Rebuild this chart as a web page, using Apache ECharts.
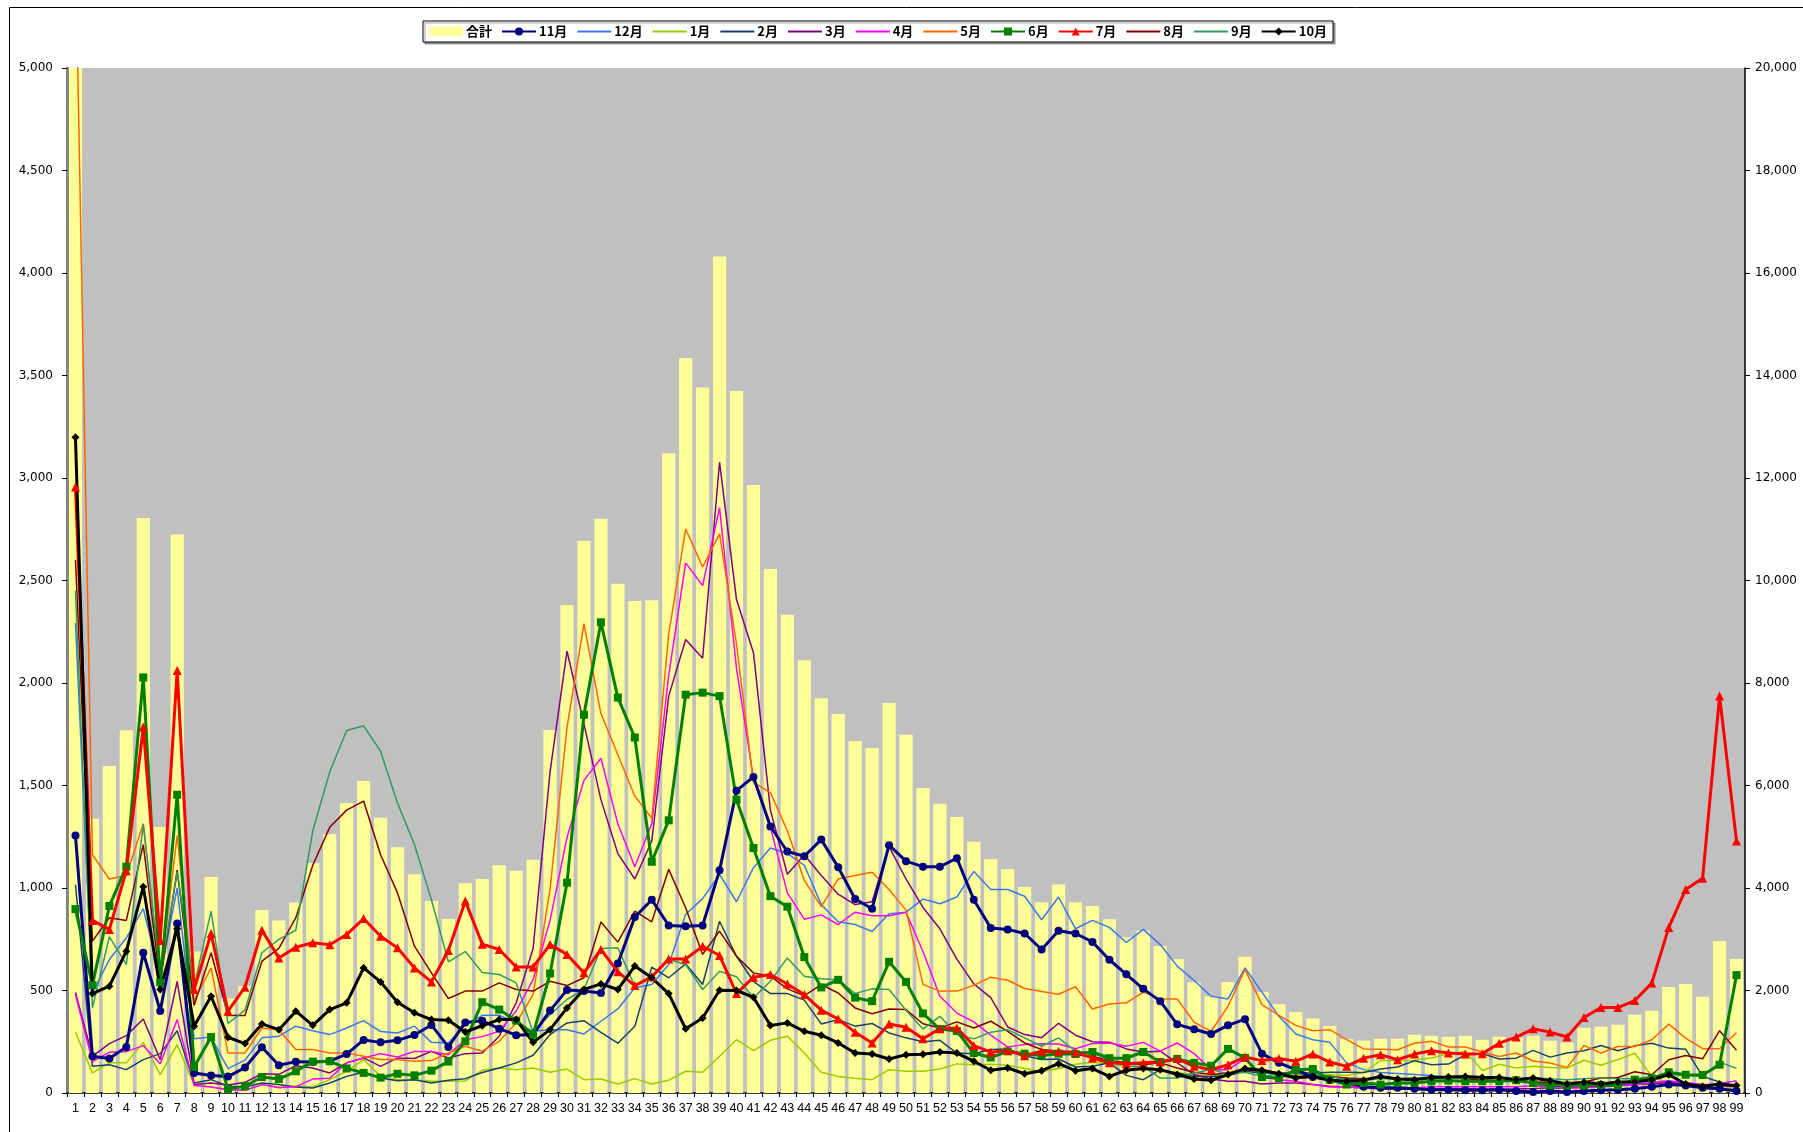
<!DOCTYPE html>
<html>
<head>
<meta charset="utf-8">
<title>月別推移</title>
<script src="https://cdn.jsdelivr.net/npm/echarts@6/dist/echarts.min.js"></script>
<style>
  html, body { margin: 0; padding: 0; background: #fff; }
  #chart { width: 1803px; height: 1132px; }
</style>
</head>
<body>
<div id="chart"></div>
<script>
// 横軸 1..99
var categories = [];
for (var i = 1; i <= 99; i++) categories.push(String(i));

// 合計 (右軸)
var total = [
  23500, 5350, 6380, 7080, 11220, 5190, 10900, 2760, 4215, 1845,
  2088, 3570, 3367, 3717, 4485, 5050, 5657, 6088, 5373, 4795,
  4268, 3744, 3393, 4094, 4175, 4444, 4337, 4552, 7084, 9521,
  10774, 11205, 9939, 9602, 9616, 12485, 14343, 13765, 16323, 13697,
  11865, 10223, 9333, 8444, 7704, 7393, 6868, 6734, 7609, 6991,
  5953, 5643, 5387, 4903, 4560, 4370, 4020, 3720, 4070, 3720,
  3650, 3390, 3040, 3165, 2870, 2610, 2160, 1890, 2165, 2660,
  1970, 1730, 1580, 1455, 1305, 1050, 1020, 1058, 1058, 1136,
  1116, 1097, 1116, 1038, 1097, 1077, 1116, 1019, 986, 1272,
  1291, 1330, 1525, 1603, 2070, 2129, 1876, 2966, 2615
];

var nov = [
  1256, 179, 168, 225, 684, 400, 827, 98, 85, 80,
  124, 223, 135, 153, 151, 155, 190, 259, 247, 257,
  283, 332, 225, 344, 352, 314, 282, 285, 402, 503,
  498, 488, 632, 858, 943, 817, 814, 817, 1086, 1475,
  1542, 1300, 1178, 1155, 1236, 1101, 946, 899, 1209, 1131,
  1104, 1104, 1145, 943, 805, 798, 778, 700, 791, 778,
  737, 650, 579, 508, 448, 335, 311, 288, 330, 360,
  192, 147, 114, 78, 65, 49, 31, 26, 26, 21,
  16, 16, 13, 13, 16, 10, 5, 10, 5, 10,
  13, 16, 21, 31, 41, 36, 26, 21, 10
];

var dec = [
  2293, 490, 651, 757, 899, 570, 1001, 265, 273, 119,
  160, 269, 277, 326, 304, 285, 317, 353, 300, 293,
  326, 247, 244, 330, 379, 379, 342, 301, 309, 309,
  288, 350, 410, 513, 529, 627, 871, 948, 1066, 933,
  1099, 1195, 1168, 1111, 919, 835, 822, 788, 875, 882,
  946, 923, 956, 1081, 993, 993, 960, 845, 956, 801,
  842, 808, 734, 798, 724, 619, 549, 472, 459, 610,
  492, 374, 288, 260, 247, 147, 114, 100, 95, 90,
  85, 75, 70, 65, 60, 55, 50, 50, 45, 45,
  40, 40, 45, 50, 55, 50, 40, 35, 30
];

var jan = [
  296, 98, 147, 147, 247, 90, 236, 41, 29, 16,
  13, 41, 29, 33, 31, 65, 106, 163, 81, 65,
  65, 57, 57, 59, 112, 122, 114, 122, 101, 117,
  65, 68, 44, 70, 44, 62, 106, 101, 179, 260,
  207, 257, 277, 195, 101, 81, 72, 65, 114, 106,
  106, 117, 142, 138, 140, 135, 120, 105, 120, 140,
  150, 140, 130, 125, 110, 100, 90, 80, 100, 120,
  110, 100, 95, 90, 90, 85, 100, 158, 159, 160,
  171, 192, 202, 110, 140, 122, 130, 124, 122, 160,
  135, 163, 194, 81, 49, 40, 30, 25, 22
];

var feb = [
  1016, 130, 138, 114, 163, 192, 304, 49, 65, 33,
  29, 49, 41, 29, 24, 49, 81, 101, 73, 60,
  65, 49, 62, 70, 100, 122, 147, 184, 285, 342,
  353, 296, 243, 326, 614, 562, 630, 529, 838, 667,
  545, 485, 485, 453, 337, 358, 326, 339, 293, 269,
  250, 257, 195, 192, 212, 215, 182, 163, 166, 127,
  130, 147, 86, 65, 114, 98, 81, 81, 85, 106,
  98, 98, 98, 98, 101, 101, 100, 117, 127, 157,
  138, 141, 187, 192, 166, 170, 208, 175, 195, 206,
  232, 206, 230, 243, 219, 214, 81, 54, 29
];

var mar = [
  490, 179, 241, 280, 361, 163, 544, 42, 49, 39,
  52, 94, 91, 133, 122, 98, 147, 171, 130, 171,
  168, 203, 171, 192, 195, 277, 440, 705, 1566, 2155,
  1801, 1431, 1168, 1044, 1229, 1936, 2212, 2121, 3077, 2407,
  2148, 1380, 1067, 1162, 1061, 970, 919, 933, 1202, 1044,
  905, 801, 653, 532, 465, 322, 285, 270, 340, 282,
  250, 248, 215, 200, 204, 147, 90, 68, 57, 57,
  44, 49, 49, 41, 33, 29, 24, 20, 18, 18,
  20, 22, 22, 20, 20, 20, 22, 25, 25, 30,
  30, 35, 40, 45, 50, 45, 40, 35, 30
];

var apr = [
  480, 153, 199, 202, 231, 143, 358, 36, 29, 16,
  13, 41, 26, 31, 68, 72, 147, 171, 192, 176,
  203, 203, 187, 260, 275, 301, 400, 553, 842, 1246,
  1525, 1633, 1313, 1104, 1313, 2037, 2586, 2475, 2855, 2071,
  1532, 1296, 976, 848, 869, 822, 882, 865, 865, 882,
  690, 472, 390, 347, 282, 225, 236, 240, 239, 216,
  242, 244, 228, 247, 204, 244, 192, 114, 114, 166,
  81, 65, 57, 41, 29, 29, 26, 25, 25, 25,
  30, 30, 30, 30, 30, 30, 35, 30, 25, 25,
  30, 35, 40, 50, 60, 50, 40, 45, 60
];

var may = [
  5600, 1162, 1044, 1061, 1313, 572, 1256, 450, 610, 195,
  195, 317, 309, 212, 212, 195, 195, 179, 163, 163,
  155, 158, 195, 228, 204, 252, 342, 480, 993, 1784,
  2290, 1851, 1650, 1448, 1340, 2239, 2751, 2566, 2727, 2189,
  1515, 1465, 1279, 1037, 909, 1044, 1061, 1077, 993, 892,
  530, 497, 497, 525, 565, 550, 510, 495, 482, 518,
  410, 434, 440, 492, 459, 459, 345, 301, 423, 602,
  431, 379, 330, 304, 309, 260, 215, 214, 211, 243,
  253, 224, 224, 200, 178, 195, 156, 146, 125, 232,
  195, 227, 227, 260, 336, 268, 216, 216, 295
];

var jun = [
  897, 526, 912, 1104, 2027, 540, 1455, 127, 273, 20,
  33, 78, 68, 106, 153, 155, 120, 98, 75, 94,
  86, 109, 153, 252, 443, 407, 353, 285, 583, 1026,
  1845, 2296, 1929, 1734, 1128, 1330, 1943, 1953, 1936, 1431,
  1195, 960, 909, 663, 515, 552, 465, 448, 640, 542,
  388, 312, 302, 195, 173, 203, 192, 183, 192, 190,
  200, 170, 170, 200, 151, 166, 147, 133, 215, 171,
  78, 73, 114, 117, 65, 41, 49, 41, 49, 49,
  57, 60, 57, 57, 57, 62, 49, 37, 36, 36,
  39, 37, 65, 71, 101, 89, 88, 138, 575
];

var jul = [
  2956, 842, 798, 1084, 1785, 744, 2061, 505, 778, 399,
  516, 794, 659, 711, 733, 723, 773, 851, 765, 708,
  610, 542, 695, 936, 726, 700, 615, 615, 724, 676,
  586, 700, 591, 524, 567, 654, 654, 716, 671, 485,
  565, 578, 532, 480, 404, 361, 296, 244, 337, 321,
  265, 314, 317, 231, 199, 207, 182, 204, 202, 199,
  171, 147, 143, 147, 151, 168, 130, 114, 138, 176,
  158, 168, 155, 190, 151, 130, 170, 187, 162, 190,
  206, 195, 190, 192, 243, 273, 313, 297, 273, 368,
  417, 417, 451, 536, 807, 993, 1047, 1936, 1229
];

var aug = [
  2600, 741, 855, 842, 1212, 539, 1087, 427, 684, 378,
  378, 643, 705, 855, 1111, 1296, 1380, 1424, 1162, 976,
  716, 586, 461, 497, 497, 537, 505, 497, 545, 524,
  562, 834, 736, 887, 835, 1091, 904, 676, 790, 667,
  586, 570, 508, 475, 529, 488, 415, 387, 410, 407,
  338, 317, 347, 317, 350, 301, 244, 212, 204, 187,
  179, 158, 147, 138, 147, 122, 101, 90, 98, 114,
  106, 98, 81, 86, 81, 73, 70, 75, 70, 70,
  70, 75, 70, 65, 60, 60, 55, 50, 50, 54,
  73, 76, 104, 89, 162, 183, 167, 304, 208
];

var sep = [
  2450, 415, 762, 627, 1313, 572, 1077, 521, 887, 339,
  404, 684, 749, 794, 1279, 1566, 1768, 1791, 1667, 1414,
  1212, 943, 640, 690, 588, 578, 537, 296, 383, 456,
  505, 705, 708, 521, 562, 651, 627, 505, 594, 567,
  464, 545, 659, 570, 557, 553, 485, 508, 505, 404,
  312, 374, 285, 264, 296, 309, 269, 228, 269, 204,
  195, 163, 130, 130, 73, 73, 98, 114, 94, 101,
  81, 94, 94, 90, 81, 65, 65, 70, 70, 75,
  70, 70, 75, 80, 75, 70, 75, 70, 65, 70,
  75, 70, 70, 80, 90, 85, 80, 150, 120
];

var oct = [
  3199, 485, 521, 692, 1006, 505, 801, 326, 472, 272,
  241, 337, 309, 399, 330, 407, 440, 610, 542, 443,
  391, 358, 355, 298, 328, 358, 358, 247, 309, 415,
  505, 532, 505, 619, 562, 485, 313, 366, 501, 500,
  467, 329, 342, 301, 282, 244, 195, 190, 166, 187,
  189, 200, 195, 155, 111, 122, 94, 109, 143, 109,
  119, 81, 111, 119, 114, 90, 68, 62, 90, 119,
  111, 94, 73, 81, 62, 57, 62, 81, 68, 65,
  76, 78, 81, 76, 76, 65, 73, 60, 44, 52,
  44, 54, 54, 65, 89, 44, 32, 44, 36
];

var leftTicks = [0, 5000, 500];
var rightTicks = [0, 20000, 2000];

function commaFmt(v) {
  return v.toLocaleString("en-US");
}

// 太線（マーカー付き）と細線
function thick(name, data, color, symbol, size) {
  return {
    name: name, type: "line", yAxisIndex: 0, data: data,
    symbol: symbol, symbolSize: size, showSymbol: true,
    lineStyle: { color: color, width: 3 },
    itemStyle: { color: color, borderColor: color, borderWidth: 0 },
    emphasis: { disabled: true },
    z: 4
  };
}
function thin(name, data, color) {
  return {
    name: name, type: "line", yAxisIndex: 0, data: data,
    symbol: "none",
    lineStyle: { color: color, width: 1.5 },
    itemStyle: { color: color },
    emphasis: { disabled: true },
    z: 3
  };
}

// 凡例: 細線は線だけ
var thinNames = ["12月", "1月", "2月", "3月", "4月", "5月", "8月", "9月"];
var legendNames = ["合計", "11月", "12月", "1月", "2月", "3月", "4月", "5月", "6月", "7月", "8月", "9月", "10月"];
var legendData = legendNames.map(function (n) {
  if (thinNames.indexOf(n) >= 0) {
    return { name: n, itemStyle: { opacity: 0 } };
  }
  return { name: n };
});

var chart = echarts.init(document.getElementById("chart"));

var option = {
  animation: false,
  backgroundColor: "#ffffff",
  textStyle: { fontFamily: "DejaVu Sans", color: "#000" },
  graphic: [
    {
      type: "rect", left: 7, top: 5, z: 100, silent: true,
      shape: { width: 1800, height: 1130 },
      style: { fill: "none", stroke: "#000", lineWidth: 1 }
    }
  ],
  legend: {
    left: 423, top: 21,
    padding: [4, 6, 4, 6],
    itemGap: 9, itemWidth: 34, itemHeight: 10,
    borderColor: "#000", borderWidth: 1,
    backgroundColor: "#fff",
    shadowColor: "rgba(0,0,0,0.35)", shadowOffsetX: 2, shadowOffsetY: 2, shadowBlur: 0,
    textStyle: { fontFamily: "Noto Sans CJK JP", fontSize: 13, fontWeight: "bold", color: "#000", padding: [0, 0, 0, -2] },
    data: legendData
  },
  grid: {
    left: 67, right: 58, top: 68, bottom: 39,
    show: true, backgroundColor: "#C0C0C0", borderWidth: 0,
    outerBoundsMode: "none"
  },
  xAxis: {
    type: "category",
    data: categories,
    boundaryGap: true,
    axisLine: { lineStyle: { color: "#000", width: 1.5 } },
    axisTick: { show: true, length: 4, lineStyle: { color: "#000" } },
    axisLabel: { interval: 0, fontFamily: "Liberation Sans", fontSize: 12.5, color: "#000", margin: 9 },
    splitLine: { show: false }
  },
  yAxis: [
    {
      type: "value", position: "left",
      min: leftTicks[0], max: leftTicks[1], interval: leftTicks[2],
      axisLine: { show: true, lineStyle: { color: "#808080", width: 3 } },
      axisTick: { show: true, length: 5, lineStyle: { color: "#000" } },
      axisLabel: { formatter: commaFmt, fontSize: 12, color: "#000", margin: 14 },
      splitLine: { show: false }
    },
    {
      type: "value", position: "right",
      min: rightTicks[0], max: rightTicks[1], interval: rightTicks[2],
      axisLine: { show: true, lineStyle: { color: "#000", width: 1.5 } },
      axisTick: { show: true, length: 5, lineStyle: { color: "#000" } },
      axisLabel: { formatter: commaFmt, fontSize: 12, color: "#000", margin: 10 },
      splitLine: { show: false }
    }
  ],
  series: [
    {
      name: "合計", type: "bar", yAxisIndex: 1, data: total,
      barCategoryGap: "22%", clip: true,
      itemStyle: { color: "#FFFF99" },
      emphasis: { disabled: true },
      z: 2
    },
    thick("11月", nov, "#000080", "circle", 8),
    thin("12月", dec, "#3A78F0"),
    thin("1月", jan, "#99CC00"),
    thin("2月", feb, "#17406D"),
    thin("3月", mar, "#800080"),
    thin("4月", apr, "#FF00FF"),
    thin("5月", may, "#FF6600"),
    thick("6月", jun, "#008000", "rect", 8),
    thick("7月", jul, "#FF0000", "triangle", 9),
    thin("8月", aug, "#800000"),
    thin("9月", sep, "#339966"),
    thick("10月", oct, "#000000", "diamond", 8)
  ]
};

chart.setOption(option);
</script>
</body>
</html>
